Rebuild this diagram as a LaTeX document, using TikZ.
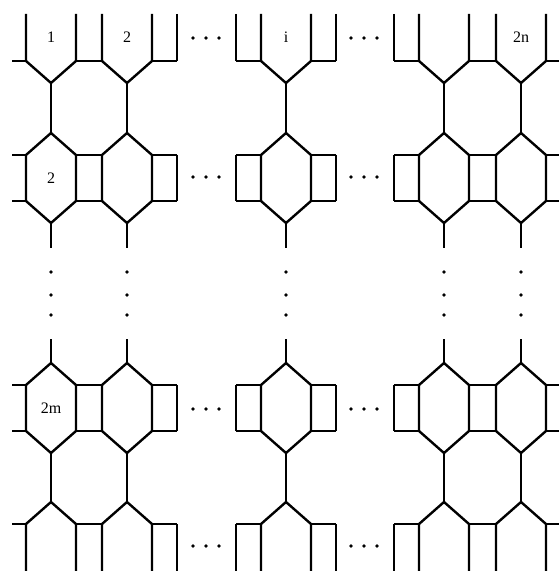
\documentclass[tikz,border=0pt]{standalone}
\usepackage{fontspec}
\setmainfont{Liberation Serif}
\begin{document}
\begin{tikzpicture}[x=0.5pt,y=-0.5pt,line width=1.2pt,
  lab/.style={font=\fontsize{8}{9}\selectfont,inner sep=0pt},
  dt/.style={fill=black}]
\useasboundingbox (0,0) rectangle (559,571);
% the five columns of the net
\foreach \i/\x in {1/51,2/127,3/286,4/444,5/521}{
  \coordinate (A\i) at (\x,83);
  \coordinate (B\i) at (\x,133);
  \coordinate (C\i) at (\x,223);
  \coordinate (D\i) at (\x,363);
  \coordinate (E\i) at (\x,453);
  \coordinate (F\i) at (\x,502);
  \foreach \d in {-25,25}{
    \draw (A\i) -- ++(\d,-22) -- ++(0,-47);
    \draw (B\i) -- ++(\d,22) -- ++(0,46) -- (C\i);
    \draw (D\i) -- ++(\d,22) -- ++(0,46) -- (E\i);
    \draw (F\i) -- ++(\d,22) -- ++(0,47);
  }
  \draw (A\i) -- (B\i);
  \draw (E\i) -- (F\i);
  \draw (C\i) -- ++(0,25);
  \draw (D\i) -- ++(0,-24);
  \foreach \y in {272,295,315} \fill[dt] (\x,\y) circle (1.8);
}
% outer sides of the squares next to the gaps
\foreach \x in {177,236,336,394}{
  \draw (\x,14) -- (\x,61);
  \draw (\x,155) -- (\x,201);
  \draw (\x,385) -- (\x,431);
  \draw (\x,524) -- (\x,571);
}
% horizontal rungs
\foreach \l/\r in {12/26,76/102,152/177,236/261,311/336,394/419,469/496,546/559}
  \foreach \y in {61,155,201,385,431,524}
    \draw (\l,\y) -- (\r,\y);
% dots between the columns
\foreach \y in {38,177,409,546}
  \foreach \x in {193,206,219,351,364,377}
    \fill[dt] (\x,\y) circle (1.8);
\node[lab] (n1) at (51,37) {1};
\node[lab] (n2) at (127,37) {2};
\node[lab] (ni) at (286,37) {i};
\node[lab] (nn) at (521,37) {2n};
\node[lab] (m2) at (51,178) {2};
\node[lab] (mm) at (51,408) {2m};
\end{tikzpicture}
\end{document}
